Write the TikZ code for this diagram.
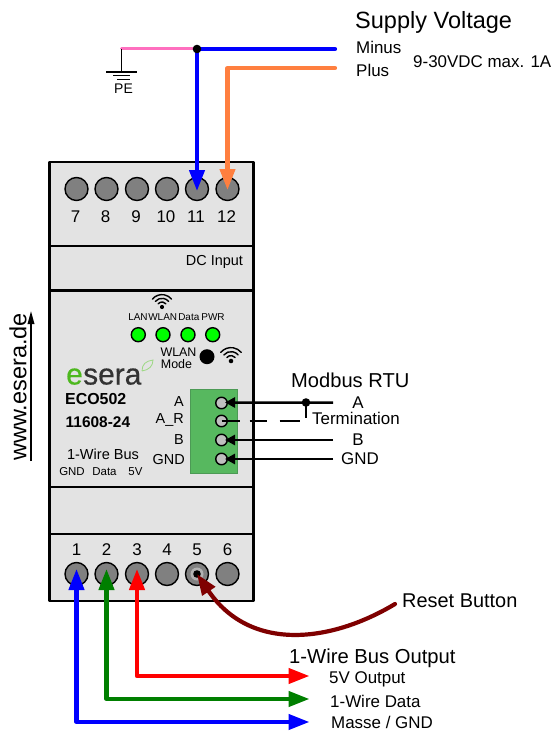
\documentclass[tikz,border=0pt]{standalone}
\usepackage{fontspec}
\setmainfont{Liberation Sans}
\newfontfamily\logofont[FakeBold=0.6]{Liberation Sans}
\usetikzlibrary{arrows.meta,calc}
\definecolor{panelgray}{HTML}{E3E3E3}
\definecolor{termgray}{HTML}{808080}
\definecolor{pebar}{HTML}{FF6FBF}
\definecolor{plusor}{HTML}{FF7F3F}
\definecolor{resetred}{HTML}{7F0000}
\definecolor{wgreen}{HTML}{007F00}
\definecolor{blockgreen}{HTML}{57B85F}
\definecolor{blockedge}{HTML}{4C9A55}
\definecolor{ledgreen}{HTML}{00FF00}
\definecolor{logogreen}{HTML}{4DB81E}
\definecolor{logogray}{HTML}{333333}
\tikzset{
  x=1bp,y=-1bp,
  lbl/.style={inner sep=0pt,font=\fontsize{#1}{#1}\selectfont,text=black},
  lbl/.default=14,
  lblb/.style={inner sep=0pt,font=\fontsize{#1}{#1}\selectfont\bfseries,text=black},
  lgo/.style={inner sep=0pt,font=\logofont\fontsize{30}{30}\selectfont},
  term/.style={circle,draw=black,line width=1.4bp,fill=termgray,minimum size=23bp,inner sep=0pt},
  mini/.style={circle,draw=black,line width=1.4bp,fill=black!25,minimum size=11.5bp,inner sep=0pt},
  led/.style={circle,draw=black,line width=1.4bp,fill=ledgreen,minimum size=14bp,inner sep=0pt},
  wire/.style={line width=4.2bp,line join=round,-{Triangle[length=21bp,width=15bp]}},
  twin/.style={line width=4.2bp,line join=round,{Triangle[length=21bp,width=15bp]}-{Triangle[length=21bp,width=15bp]}},
  bus/.style={line width=2.5bp,-{Triangle[length=10bp,width=10bp]}},
  wall/.style={line width=2.2bp,draw=black},
  gbar/.style={line width=1.3bp},
}
\newcommand{\wifi}[3]{% x,y(dot),scale
  \begin{scope}[shift={(#1,#2)},scale=#3,line width=1.4bp,line cap=round]
    \fill (0,0) circle (2.1);
    \foreach \r in {5,8.7,12.4}{
      \draw ({-0.766*\r},{-0.643*\r}) arc[start angle=220,end angle=320,radius=\r];
    }
  \end{scope}}
\begin{document}
\begin{tikzpicture}
\useasboundingbox (0,0) rectangle (552,731);
% housing
\fill[panelgray] (49.5,162) rectangle (253.5,601);
\draw[wall,line join=round] (49.5,162) rectangle (253.5,601);
\draw[wall] (49.5,245.7) -- (253.5,245.7);
\draw[wall] (49.5,290.5) -- (253.5,290.5);
\draw[wall] (49.5,487) -- (253.5,487);
\draw[wall] (49.5,534) -- (253.5,534);
% terminals
\foreach \n/\x in {7/76.5,8/106.5,9/137,10/167,11/197,12/227.5}{
  \node[term] (t\n) at (\x,189) {};
  \node[lbl=17] at (\x-1,217) {\n};
}
\foreach \n/\x in {1/76.5,2/106.5,3/137,4/167,5/197,6/227.5}{
  \node[term] (t\n) at (\x,574) {};
  \node[lbl=17] at (\x,550) {\n};
}
\fill[black!30] (t5.center) circle (6.5);
\fill[black] (t5.center) circle (3.8);
% supply
\coordinate (pe) at (121.5,49);
\coordinate (jn) at (197,49);
\coordinate (minus) at (335,49);
\coordinate (plus) at (335,68);
\coordinate (pcorner) at (227.5,68);
\coordinate (gnd) at (121.5,72);
\draw[pebar,line width=3bp,line cap=round] (pe) -- (jn);
\draw[gbar] (pe) -- (gnd);
\draw[gbar] (106,72) -- (137,72);
\draw[gbar] (113,75.5) -- (130,75.5);
\draw[gbar] (117,79.5) -- (130,79.5);
\node[lbl=14] (petxt) at (123.5,88.5) {PE};
\draw[blue,line width=4.2bp,line cap=round] (jn) -- (minus);
\draw[wire,blue] (jn) -- ($(t11.center)+(0,2)$);
\draw[wire,plusor,line cap=round] (plus) -- (pcorner) -- ($(t12.center)+(0,1)$);
\fill (jn) circle (4.3);
\node[lbl=23.6,anchor=west] at (355,22) {Supply Voltage};
\node[lbl=17,anchor=west] at (356,47) {Minus};
\node[lbl=17,anchor=west] at (356,70) {Plus};
\node[lbl=17,anchor=west] at (413,62) {9-30VDC max. 1A};
% panel
\node[lbl=14.5] at (214.5,261.5) {DC Input};
\wifi{162}{307}{1}
\node[led] (la) at (138.3,334.7) {};
\node[led] (lb) at (163,334.7) {};
\node[led] (lc) at (188,334.7) {};
\node[led] (ld) at (212.7,334.7) {};
\node[lbl=10] at (138,317) {LAN};
\node[lbl=10] at (162.7,317) {WLAN};
\node[lbl=10] at (188.8,317) {Data};
\node[lbl=10] at (213,317) {PWR};
\node[lbl=12.5] at (178.5,352) {WLAN};
\node[lbl=12.5] at (176.5,364.5) {Mode};
\node[fill=black,circle,minimum size=15bp,inner sep=0pt] (wbtn) at (207,356.7) {};
\wifi{231}{361}{1.08}
% logo
\node[lgo,anchor=base west,text=logogreen] (logo) at (66,384.5) {e};
\node[lgo,anchor=base west,text=logogray] at (logo.base east) {sera};
\draw[logogreen!55!white,line width=0.8bp] (142,371) .. controls (142,364) and (146,361) .. (153,360) .. controls (153,366) and (149,370) .. (142,371);
\node[lblb=16,anchor=west] at (65,399) {ECO502};
\node[lblb=15.5,anchor=west] at (65.5,422) {11608-24};
\node[lbl=14.6] at (103,454) {1-Wire Bus};
\node[lbl=11.5] at (72,472) {GND};
\node[lbl=11.5] at (104.5,472) {Data};
\node[lbl=11.5] at (135.5,472) {5V};
\node[lbl=14.5,anchor=east] at (184,402) {A};
\node[lbl=14.5,anchor=east] at (184,420) {A\_R};
\node[lbl=14.5,anchor=east] at (184,440) {B};
\node[lbl=14.5,anchor=east] at (185,460) {GND};
% modbus
\node[draw=blockedge,line width=1bp,fill=blockgreen,minimum width=47bp,minimum height=84bp,inner sep=0pt] (block) at (213.5,431) {};
\node[mini] (ma) at (221.5,403) {};
\node[mini] (mr) at (221.5,421) {};
\node[mini] (mb) at (221.5,440) {};
\node[mini] (mg) at (221.5,459) {};
\coordinate (ea) at (333,402.5);
\coordinate (eb) at (333,440);
\coordinate (eg) at (333,459);
\coordinate (tj) at (306,402.5);
\coordinate (te) at (306,418);
\coordinate (de) at (300,421);
\draw[bus] (ea) -- ($(ma.center)+(3.5,-0.5)$);
\draw[bus] (eb) -- ($(mb.center)+(3.5,0)$);
\draw[bus] (eg) -- ($(mg.center)+(3.5,0)$);
\draw[line width=2.4bp,dash pattern=on 18bp off 10bp on 17bp off 13bp on 20bp off 10bp] (mr.center) -- (de);
\draw[line width=2.4bp] (tj) -- (te);
\fill (tj) circle (4.3);
\node[lbl=20.2,anchor=west] at (291,380.5) {Modbus RTU};
\node[lbl=17] at (358,403) {A};
\node[lbl=17,anchor=west] at (312,418) {Termination};
\node[lbl=17] at (358,440) {B};
\node[lbl=17] at (360,459) {GND};
% bottom wires
\coordinate (r1) at (137,676);
\coordinate (r2) at (309.5,676);
\coordinate (g1) at (106.5,699);
\coordinate (g2) at (309.5,699);
\coordinate (b1) at (76.5,722);
\coordinate (b2) at (309.5,722);
\draw[twin,red] ($(t3.center)+(0,-5)$) -- (r1) -- (r2);
\draw[twin,wgreen] ($(t2.center)+(0,-5)$) -- (g1) -- (g2);
\draw[twin,blue] ($(t1.center)+(0,-5)$) -- (b1) -- (b2);
\coordinate (rs) at (395,604);
\draw[wire,resetred,line cap=round] (rs) .. controls (330,643) and (250,652) .. (t5.center);
\node[lbl=20,anchor=west] at (402,600.5) {Reset Button};
\node[lbl=20.3,anchor=west] at (289,658) {1-Wire Bus Output};
\node[lbl=17,anchor=west] at (329,679) {5V Output};
\node[lbl=17,anchor=west] at (330,701) {1-Wire Data};
\node[lbl=17,anchor=base west] at (331,728.8) {Masse / GND};
% side
\node[lbl=23.6,rotate=90] (www) at (18,387) {www.esera.de};
\coordinate (a1) at (31,461);
\coordinate (a2) at (31,311);
\draw[line width=1.7bp,-{Triangle[length=13bp,width=6.5bp]}] (a1) -- (a2);
\end{tikzpicture}
\end{document}
